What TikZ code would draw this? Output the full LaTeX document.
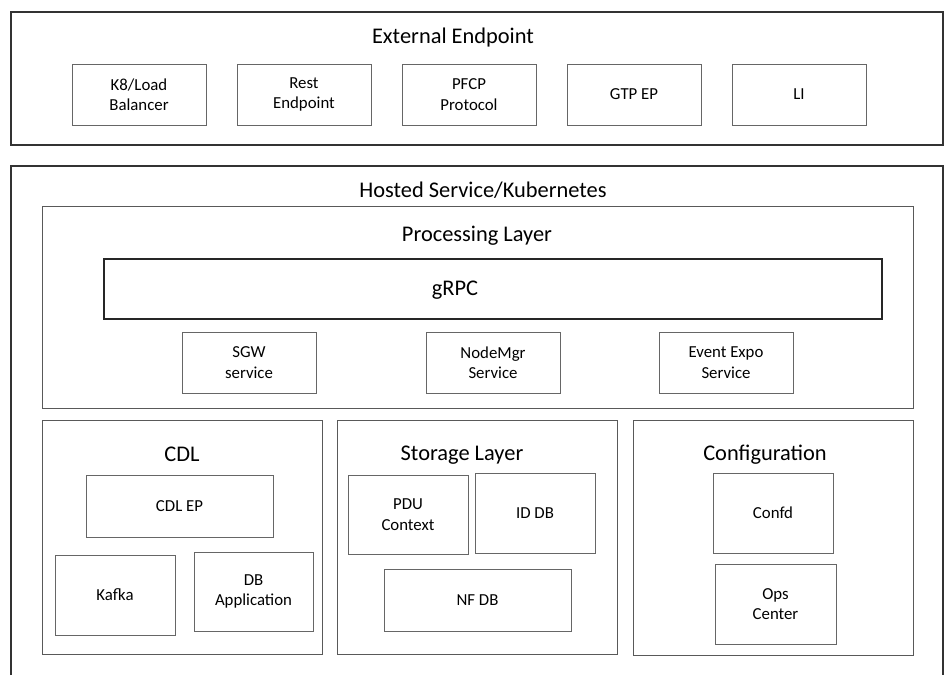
\documentclass[tikz,border=0pt]{standalone}
\usepackage{fontspec}
\setmainfont{Carlito}
\begin{document}
\begin{tikzpicture}[x=1pt, y=-1pt,
        frame/.style={draw=black!80, line width=1.5pt},
        layer/.style={draw=black!65, line width=1pt, inner sep=0pt},
        box/.style={draw=black!60, line width=1pt, inner sep=0pt, align=center, font=\fontsize{16.8}{20.5}\selectfont},
        title/.style={anchor=base, font=\fontsize{22.4}{25}\selectfont}]
        \useasboundingbox (0,0) rectangle (945,675);

        \node[frame, minimum width=932pt, minimum height=133pt] (external) at (477,78.5) {};
        \node[title] (externaltitle) at (453,43.3) {External Endpoint};
        \node[box, minimum width=134pt, minimum height=61pt] (k8lb) at (139,94.5) {K8/Load\\Balancer};
        \node[box, minimum width=134pt, minimum height=61pt] (rest) at (304,94.5) {Rest\\Endpoint};
        \node[box, minimum width=134pt, minimum height=61pt] (pfcp) at (469,94.5) {PFCP\\Protocol};
        \node[box, minimum width=134pt, minimum height=61pt] (gtp) at (634,94.5) {GTP EP};
        \node[box, minimum width=134pt, minimum height=61pt] (li) at (799,94.5) {LI};

        \draw[frame] (11,675) -- (11,166) -- (943,166) -- (943,675);
        \node[title] (hostedtitle) at (483,197.7) {Hosted Service/Kubernetes};

        \node[layer, minimum width=871pt, minimum height=202pt] (processing) at (477.5,307) {};
        \node[title] (processingtitle) at (477,241.7) {Processing Layer};
        \node[layer, draw=black!85, line width=1.3pt, minimum width=778pt, minimum height=60pt] (grpc) at (493,289) {};
        \node[title] (grpctitle) at (455,295.5) {gRPC};
        \node[box, minimum width=134pt, minimum height=61pt] (sgw) at (249,362.5) {SGW\\service};
        \node[box, minimum width=134pt, minimum height=61pt] (nodemgr) at (493,362.5) {NodeMgr\\Service};
        \node[box, minimum width=134pt, minimum height=61pt] (eventexpo) at (726,362.5) {Event Expo\\Service};

        \node[layer, minimum width=280pt, minimum height=234pt] (cdl) at (182,537) {};
        \node[title] (cdltitle) at (182,461) {CDL};
        \node[box, minimum width=187pt, minimum height=62pt] (cdlep) at (179.5,506) {CDL EP};
        \node[box, minimum width=120pt, minimum height=80pt] (kafka) at (115,595) {Kafka};
        \node[box, minimum width=119pt, minimum height=79pt] (dbapp) at (253.5,591.5) {DB\\Application};

        \node[layer, minimum width=280pt, minimum height=234pt] (storage) at (477,537) {};
        \node[title] (storagetitle) at (462,460.7) {Storage Layer};
        \node[box, minimum width=120pt, minimum height=79pt] (pdu) at (408,514.5) {PDU\\Context};
        \node[box, minimum width=120pt, minimum height=80pt] (iddb) at (535,513) {ID DB};
        \node[box, minimum width=187pt, minimum height=62pt] (nfdb) at (477.5,600) {NF DB};

        \node[layer, minimum width=280pt, minimum height=235pt] (config) at (773,537.5) {};
        \node[title] (configtitle) at (765,460) {Configuration};
        \node[box, minimum width=120pt, minimum height=80pt] (confd) at (773,513) {Confd};
        \node[box, minimum width=121pt, minimum height=80pt] (opscenter) at (775.5,604) {Ops\\Center};
    \end{tikzpicture}
\end{document}
